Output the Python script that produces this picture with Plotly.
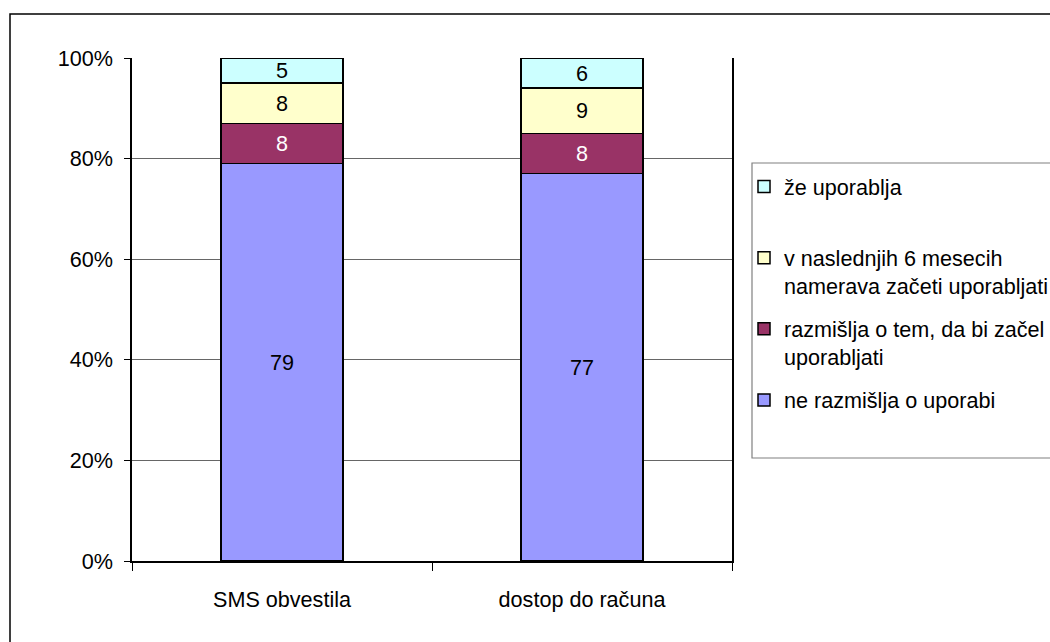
import plotly.graph_objects as go

categories = ["SMS obvestila", "dostop do računa"]
series_names = [
    "ne razmišlja o uporabi",
    "razmišlja o tem, da bi začel<br>uporabljati",
    "v naslednjih 6 mesecih<br>namerava začeti uporabljati",
    "že uporablja",
]
ne_razmislja = [79, 77]
razmislja = [8, 8]
naslednjih_6 = [8, 9]
ze_uporablja = [5, 6]
y_ticks = [0, 20, 40, 60, 80, 100]
y_tick_labels = [f"{v}%" for v in y_ticks]

series_values = [ne_razmislja, razmislja, naslednjih_6, ze_uporablja]
colors = ["#9999FF", "#993366", "#FFFFCC", "#CCFFFF"]
text_colors = ["#000000", "#FFFFFF", "#000000", "#000000"]
legend_names = [
    "ne razmišlja o uporabi<br> ",
    series_names[1],
    series_names[2],
    "že uporablja<br> ",
]

FONT = "Liberation Sans, Arial, sans-serif"
FS = 21.6

fig = go.Figure()
for i, (name, vals) in enumerate(zip(series_names, series_values)):
    fig.add_trace(go.Bar(
        x=categories, y=vals, name=legend_names[i],
        legendgroup=str(i), legendrank=10 * (4 - i),
        text=vals, texttemplate="%{text}",
        textposition="inside", insidetextanchor="middle",
        constraintext="none", textangle=0,
        textfont=dict(family=FONT, size=FS, color=text_colors[i]),
        marker=dict(color=colors[i], line=dict(color="#000000", width=1.5)),
    ))

W, H = 1050, 642
L, R, T, B = 132, 732, 58, 561

def px(x):
    return (x - L) / (R - L)

def py(y):
    return (B - y) / (B - T)

fig.update_layout(
    width=W, height=H,
    barmode="stack", barnorm="percent", bargap=0.593,
    margin=dict(l=L, r=W - R, t=T, b=H - B, pad=0, autoexpand=False),
    paper_bgcolor="white", plot_bgcolor="white",
    font=dict(family=FONT, size=FS, color="#000000"),
    showlegend=True,
    legend=dict(
        x=px(744), y=py(166), xanchor="left", yanchor="top",
        traceorder="grouped", tracegroupgap=12,
        valign="top", bgcolor="rgba(0,0,0,0)", borderwidth=0,
        font=dict(family=FONT, size=FS, color="#000000"),
    ),
    xaxis=dict(
        showgrid=False, showline=True, linecolor="#000000", linewidth=2,
        ticks="outside", tickson="boundaries", ticklen=8, tickcolor="#000000",
        ticklabelstandoff=18,
    ),
    yaxis=dict(
        range=[0, 100], tickvals=y_ticks, ticktext=y_tick_labels,
        showgrid=True, gridcolor="#666666", gridwidth=1,
        showline=True, linecolor="#000000", linewidth=1.5, mirror=True,
        ticks="outside", ticklen=6, tickcolor="#000000",
        zeroline=False, ticklabelstandoff=7,
    ),
    shapes=[
        dict(type="rect", xref="paper", yref="paper",
             x0=px(10), x1=px(1080), y0=py(680), y1=py(14),
             line=dict(color="#000000", width=1.5), fillcolor="rgba(0,0,0,0)", layer="below"),
        dict(type="rect", xref="paper", yref="paper",
             x0=px(752), x1=px(1080), y0=py(458), y1=py(163),
             line=dict(color="#808080", width=1.2), fillcolor="rgba(0,0,0,0)"),
    ],
)

fig.write_html(
    "out.html",
    config={"displayModeBar": False},
    post_script="document.body.style.margin='0px';document.body.style.overflow='hidden';",
)
